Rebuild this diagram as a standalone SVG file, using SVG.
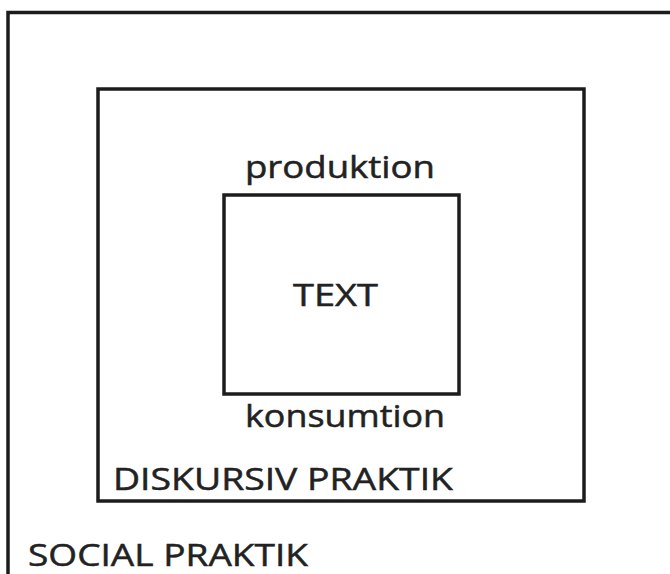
<svg xmlns="http://www.w3.org/2000/svg" width="670" height="574" viewBox="0 0 670 574">
<style>
.box{fill:none;stroke:#1c1c1c;stroke-width:3.5}
.lbl{font-family:"Open Sans","Liberation Sans",sans-serif;font-size:31px;fill:#222;stroke:#222;stroke-width:0.5}
</style>
<rect x="0" y="0" width="670" height="574" fill="#fff"/>
<g id="social-praktik">
<rect class="box" x="8" y="12.5" width="700" height="620"/>
<text class="lbl" x="28" y="566" textLength="280" lengthAdjust="spacingAndGlyphs">SOCIAL PRAKTIK</text>
</g>
<g id="diskursiv-praktik">
<rect class="box" x="98" y="89" width="486" height="412"/>
<text class="lbl" x="113" y="490" textLength="340" lengthAdjust="spacingAndGlyphs">DISKURSIV PRAKTIK</text>
<text class="lbl" x="245" y="178" textLength="190" lengthAdjust="spacingAndGlyphs">produktion</text>
<text class="lbl" x="245" y="427" textLength="200" lengthAdjust="spacingAndGlyphs">konsumtion</text>
</g>
<g id="text">
<rect class="box" x="224" y="195" width="235" height="199"/>
<text class="lbl" x="293" y="306" textLength="85" lengthAdjust="spacingAndGlyphs">TEXT</text>
</g>
<g id="connectors"></g>
</svg>
